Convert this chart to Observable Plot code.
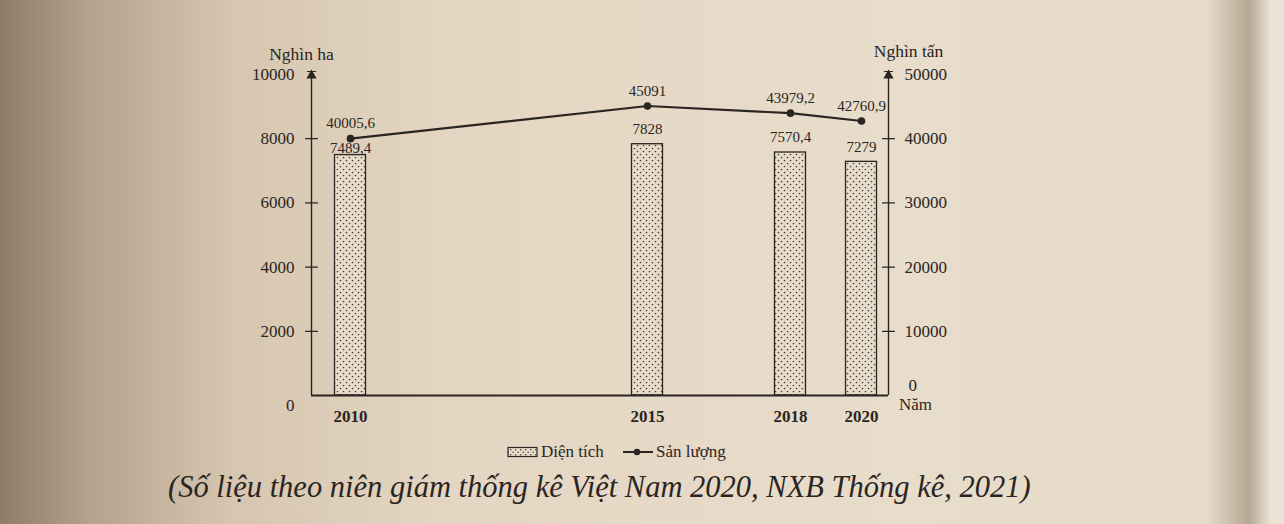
<!DOCTYPE html>
<html><head><meta charset="utf-8">
<script src="https://cdn.jsdelivr.net/npm/d3@7"></script>
<script src="https://cdn.jsdelivr.net/npm/@observablehq/plot@0.6"></script>
<style>
html,body{margin:0;padding:0;width:1284px;height:524px;overflow:hidden;}
body{background:linear-gradient(90deg,#8f7c67 0%,#b5a28c 7%,#d6c6b0 18%,#e4d6c2 35%,#e8dccb 70%,#e6dac8 94%,#b7a795 97.3%,#ece3d6 99%);font-family:"Liberation Serif",serif;color:#2a2522;}
#chart svg{display:block;background:transparent;}
#legend{height:24px;position:relative;font-size:17px;}
#legend span{position:absolute;top:0;display:inline-flex;align-items:center;gap:2px;height:24px;}
#caption{font-style:italic;font-size:30.5px;margin-left:168px;margin-top:6px;white-space:nowrap;}
</style>
</head><body>
<div id="chart"></div>
<div id="legend">
  <span style="left:507px"><svg width="32" height="12"><rect x="1" y="1.5" width="29" height="9" fill="url(#dotsL)" stroke="#2a2522" stroke-width="1.2"/><defs><pattern id="dotsL" width="5" height="5" patternUnits="userSpaceOnUse"><rect width="5" height="5" fill="#e8dccb"/><circle cx="1.2" cy="1.2" r="0.8" fill="#4a403a"/><circle cx="3.7" cy="3.7" r="0.8" fill="#4a403a"/></pattern></defs></svg>Diện tích</span>
  <span style="left:622px"><svg width="32" height="12"><line x1="1" y1="6" x2="31" y2="6" stroke="#2a2522" stroke-width="2"/><circle cx="15" cy="6" r="3.3" fill="#2a2522"/></svg>Sản lượng</span>
</div>
<div id="caption">(Số liệu theo niên giám thống kê Việt Nam 2020, NXB Thống kê, 2021)</div>
<script>
const years = [2010, 2015, 2018, 2020];
const area = [7489.4, 7828, 7570.4, 7279];          // Diện tích (nghìn ha)
const production = [40005.6, 45091, 43979.2, 42760.9]; // Sản lượng (nghìn tấn)
const leftTicks = [0, 2000, 4000, 6000, 8000, 10000];
const rightTicks = [0, 10000, 20000, 30000, 40000, 50000];
const ratio = 5; // right axis / left axis

const data = years.map((y, i) => ({year: y, area: area[i], prod: production[i]}));
const fmt = v => String(v).replace(".", ",");
const ink = "#2a2522";

// irregular spacing of the printed chart
const xDomain = [2009.25, 2010, 2015, 2018, 2020, 2020.55];
const xRange = [311, 350, 647, 790, 861, 888];

const crossTick = {draw(ctx, l) { ctx.moveTo(0, 0); ctx.lineTo(0, -l); }};
const isFirst = d => d.year === years[0];

const plot = Plot.plot({
  width: 1284,
  height: 440,
  marginTop: 74,
  marginBottom: 45,
  marginLeft: 311,
  marginRight: 396,
  style: {fontFamily: "Liberation Serif, serif", fontSize: "14px", color: ink, background: "transparent"},
  x: {type: "linear", domain: xDomain, range: xRange, axis: null},
  y: {domain: [0, 10000], axis: null},
  marks: [
    // bars
    Plot.rect(data, {x1: "year", x2: "year", y1: 0, y2: "area", insetLeft: -15.5, insetRight: -15.5, fill: "url(#dots)", stroke: ink, strokeWidth: 1.3}),
    // axes lines
    Plot.ruleX([xDomain[0]], {y1: 0, y2: 10000, stroke: ink, strokeWidth: 1.4}),
    Plot.ruleX([xDomain[xDomain.length - 1]], {y1: 0, y2: 10000, stroke: ink, strokeWidth: 1.4}),
    Plot.ruleY([0], {stroke: ink, strokeWidth: 2}),
    // left axis ticks & labels
    Plot.vector(leftTicks.slice(1, -1), {y: d => d, frameAnchor: "left", length: 12, rotate: 90, shape: crossTick, anchor: "middle", stroke: ink, strokeWidth: 1.2}),
    Plot.text(leftTicks.slice(1), {y: d => d, frameAnchor: "left", text: d => String(d), textAnchor: "end", dx: -17, fontSize: 17, fill: ink}),
    Plot.text(leftTicks.slice(0, 1), {y: d => d, frameAnchor: "left", text: d => String(d), textAnchor: "end", dx: -17, dy: 10, fontSize: 17, fill: ink}),
    // right axis ticks & labels
    Plot.vector(rightTicks.slice(1, -1).map(d => d / ratio), {y: d => d, frameAnchor: "right", length: 12, rotate: 90, shape: crossTick, anchor: "middle", stroke: ink, strokeWidth: 1.2}),
    Plot.text(rightTicks.slice(1), {y: d => d / ratio, frameAnchor: "right", text: d => String(d), textAnchor: "start", dx: 16, fontSize: 17, fill: ink}),
    Plot.text(rightTicks.slice(0, 1), {y: d => d / ratio, frameAnchor: "right", text: d => String(d), textAnchor: "start", dx: 20, dy: -10, fontSize: 17, fill: ink}),
    // arrow heads
    Plot.dot([10000], {y: d => d, frameAnchor: "left", symbol: "triangle", r: 3.8, fill: ink, dy: 1}),
    Plot.dot([10000], {y: d => d, frameAnchor: "right", symbol: "triangle", r: 3.8, fill: ink, dy: 1}),
    Plot.vector([10000], {y: d => d, frameAnchor: "left", length: 8, rotate: 90, shape: crossTick, anchor: "middle", stroke: ink, strokeWidth: 1.2, dy: -3}),
    Plot.vector([10000], {y: d => d, frameAnchor: "right", length: 8, rotate: 90, shape: crossTick, anchor: "middle", stroke: ink, strokeWidth: 1.2, dy: -3}),
    // axis titles
    Plot.text(["Nghìn ha"], {frameAnchor: "top-left", text: d => d, dx: -10, dy: -27, textAnchor: "middle", fontSize: 17.5, fill: ink}),
    Plot.text(["Nghìn tấn"], {frameAnchor: "top-right", text: d => d, dx: 20, dy: -30, textAnchor: "middle", fontSize: 17.5, fill: ink}),
    Plot.text(["Năm"], {frameAnchor: "bottom-right", text: d => d, dx: 27, dy: 14, textAnchor: "middle", fontSize: 17, fill: ink}),
    // year labels
    Plot.text(data, {x: "year", y: 0, text: d => String(d.year), dy: 21, fontSize: 17, fontWeight: "bold", fill: ink}),
    // line
    Plot.line(data, {x: "year", y: d => d.prod / ratio, stroke: ink, strokeWidth: 2.2}),
    Plot.dot(data, {x: "year", y: d => d.prod / ratio, r: 3.8, fill: ink}),
    // value labels
    Plot.text(data, {x: "year", y: d => d.prod / ratio, text: d => fmt(d.prod), dy: -15, fontSize: 15, fill: ink}),
    Plot.text(data.filter(isFirst), {x: "year", y: "area", text: d => fmt(d.area), dy: -7, fontSize: 15, fill: ink}),
    Plot.text(data.filter(d => !isFirst(d)), {x: "year", y: "area", text: d => fmt(d.area), dy: -15, fontSize: 15, fill: ink})
  ]
});

d3.select(plot).insert("defs", ":first-child").html(
  '<pattern id="dots" width="6" height="6" patternUnits="userSpaceOnUse">' +
  '<rect width="6" height="6" fill="#e8dccb"/>' +
  '<circle cx="1.5" cy="1.5" r="0.85" fill="#4a403a"/>' +
  '<circle cx="4.5" cy="4.5" r="0.85" fill="#4a403a"/></pattern>'
);
document.getElementById("chart").appendChild(plot);
</script>
</body></html>
